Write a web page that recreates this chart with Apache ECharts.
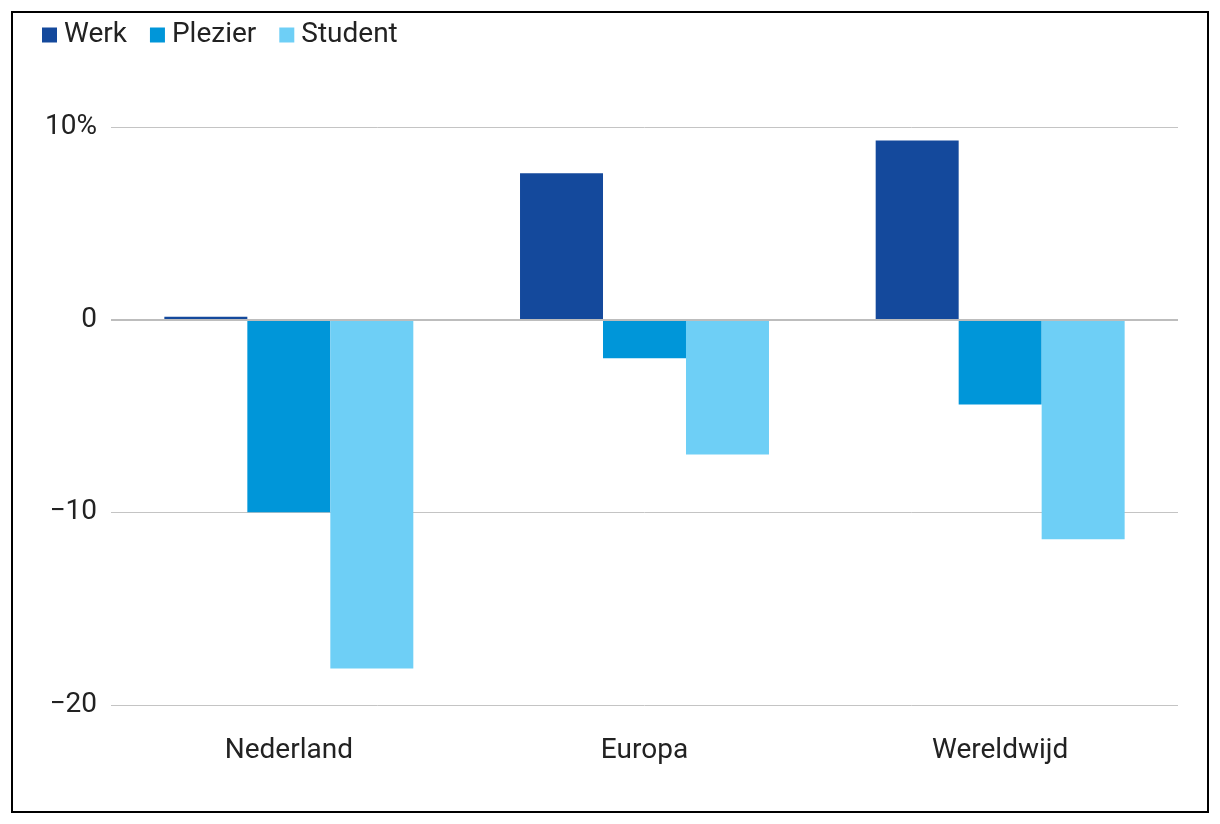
<!DOCTYPE html>
<html>
<head>
<meta charset="utf-8">
<script src="https://cdn.jsdelivr.net/npm/echarts@6/dist/echarts.min.js"></script>
<style>
html,body{margin:0;padding:0;background:#fff;}
#c{width:1220px;height:824px;}
</style>
</head>
<body>
<div id="c"></div>
<script>
const categories = ['Nederland', 'Europa', 'Wereldwijd'];
const seriesNames = ['Werk', 'Plezier', 'Student'];
const werk = [0.15, 7.6, 9.3];
const plezier = [-10.0, -2.0, -4.4];
const student = [-18.1, -7.0, -11.4];
const yTicks = [-20, -10, 0, 10];

const colors = ['#14499c', '#0096d9', '#6ecff6'];
const font = 'Roboto, "Liberation Sans", sans-serif';

const chart = echarts.init(document.getElementById('c'));
const values = [werk, plezier, student];

chart.setOption({
  animation: false,
  color: colors,
  textStyle: { fontFamily: font },
  graphic: [{
    type: 'rect',
    shape: { x: 12, y: 12, width: 1196, height: 800 },
    style: { fill: 'none', stroke: '#000', lineWidth: 2 },
    silent: true
  }],
  legend: {
    left: 37, top: 16,
    icon: 'rect',
    itemWidth: 15, itemHeight: 15, itemGap: 23,
    textStyle: { fontSize: 28, color: '#222', fontFamily: font, padding: [0, 0, 0, 2] },
    data: seriesNames
  },
  grid: { left: 111, right: 42, top: 127, bottom: 119 },
  xAxis: {
    type: 'category',
    data: categories,
    axisLine: { show: false, onZero: false },
    axisTick: { show: false },
    axisLabel: { fontSize: 28, color: '#222', margin: 32 },
    splitLine: { show: false }
  },
  yAxis: {
    type: 'value',
    min: yTicks[0], max: yTicks[yTicks.length - 1], interval: 10,
    axisLine: { show: false },
    axisTick: { show: false },
    axisLabel: {
      fontSize: 28, color: '#222', margin: 14, padding: [4, 0, 0, 0],
      formatter: v => v === 10 ? '10%' : (v < 0 ? '\u2212' + Math.abs(v) : String(v))
    },
    splitLine: { lineStyle: { color: '#c4c4c4', width: 1 } }
  },
  series: seriesNames.map((n, i) => ({
    name: n,
    type: 'bar',
    data: values[i],
    barGap: '0%',
    barCategoryGap: '30%',
    itemStyle: { color: colors[i] },
    markLine: i === 0 ? {
      silent: true, symbol: 'none', label: { show: false },
      lineStyle: { color: '#bdbdbd', width: 2, type: 'solid' },
      data: [{ yAxis: 0 }]
    } : undefined
  }))
});
</script>
</body>
</html>
